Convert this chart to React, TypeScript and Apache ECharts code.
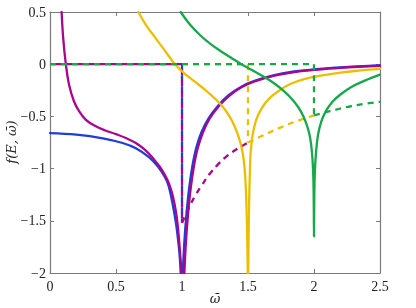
import React, { useEffect, useRef } from "react";
import * as echarts from "echarts";

type P = [number, number];

const xTicks = [0, 0.5, 1, 1.5, 2, 2.5];
const yTicks = [-2, -1.5, -1, -0.5, 0, 0.5];
const xTitle = "\u03c9\u0304";
const yTitle = "f(E, \u03c9\u0304)";

const blueLeft: P[] = [[0,-0.66],[0.2,-0.675],[0.4,-0.71],[0.55,-0.755],[0.65,-0.805],[0.75,-0.89],[0.82,-0.985],[0.87,-1.08],[0.9,-1.17],[0.935,-1.38],[0.955,-1.53],[0.97,-1.68],[0.982,-1.83],[0.99,-2]];
const blueRight: P[] = [[1.006,-2],[1.018,-1.7],[1.033,-1.45],[1.053,-1.2],[1.078,-0.98],[1.108,-0.8],[1.148,-0.65],[1.2,-0.52],[1.275,-0.395],[1.355,-0.295],[1.45,-0.215],[1.55,-0.16],[1.7,-0.105],[1.85,-0.07],[2.0,-0.05],[2.2,-0.03],[2.5,-0.012]];
const magentaLeft: P[] = [[0.088,0.5],[0.1,0.25],[0.12,0],[0.145,-0.2],[0.18,-0.35],[0.22,-0.45],[0.27,-0.53],[0.34,-0.59],[0.42,-0.635],[0.5,-0.67],[0.58,-0.71],[0.65,-0.755],[0.72,-0.82],[0.78,-0.9],[0.83,-0.98],[0.87,-1.06],[0.9,-1.14],[0.93,-1.26],[0.955,-1.42],[0.972,-1.6],[0.985,-1.8],[0.997,-2]];
const magentaRight: P[] = [[1.018,-2],[1.03,-1.7],[1.045,-1.45],[1.065,-1.2],[1.09,-0.98],[1.12,-0.8],[1.16,-0.65],[1.21,-0.52],[1.28,-0.4],[1.36,-0.3],[1.45,-0.22],[1.55,-0.165],[1.7,-0.11],[1.85,-0.075],[2.0,-0.055],[2.2,-0.035],[2.5,-0.015]];
const yellowLeft: P[] = [[0.669,0.5],[0.73,0.37],[0.8,0.25],[0.87,0.13],[0.947,0],[1.02,-0.09],[1.1,-0.17],[1.18,-0.25],[1.25,-0.33],[1.31,-0.41],[1.36,-0.5],[1.4,-0.6],[1.43,-0.7],[1.452,-0.8],[1.468,-0.92],[1.48,-1.1],[1.488,-1.35],[1.494,-1.65],[1.498,-2]];
const yellowRight: P[] = [[1.502,-2],[1.505,-1.6],[1.509,-1.3],[1.514,-1.05],[1.52,-0.85],[1.535,-0.68],[1.56,-0.54],[1.6,-0.43],[1.66,-0.33],[1.74,-0.25],[1.82,-0.19],[1.92,-0.145],[2.05,-0.11],[2.2,-0.08],[2.35,-0.06],[2.5,-0.045]];
const greenCurve: P[] = [[0.99,0.5],[1.06,0.38],[1.14,0.275],[1.22,0.19],[1.3,0.12],[1.38,0.055],[1.45,0],[1.53,-0.055],[1.62,-0.12],[1.7,-0.185],[1.77,-0.255],[1.83,-0.33],[1.88,-0.41],[1.92,-0.5],[1.95,-0.6],[1.97,-0.7],[1.985,-0.85],[1.994,-1.05],[1.998,-1.3],[2.0,-1.65],[2.002,-1.3],[2.006,-1.05],[2.015,-0.85],[2.03,-0.68],[2.055,-0.55],[2.09,-0.45],[2.14,-0.36],[2.2,-0.29],[2.28,-0.22],[2.38,-0.16],[2.5,-0.1]];

const magentaBoundary: P[] = [[1.0,-1.52],[1.05,-1.38],[1.1,-1.26],[1.15,-1.16],[1.21,-1.05],[1.28,-0.95],[1.34,-0.88],[1.42,-0.81],[1.5,-0.75]];
const yellowBoundary: P[] = [[1.5,-0.75],[1.6,-0.69],[1.74,-0.61],[1.87,-0.545],[2.0,-0.49]];
const greenBoundary: P[] = [[2.0,-0.49],[2.12,-0.45],[2.25,-0.41],[2.38,-0.38],[2.5,-0.36]];

const blueZero: P[] = [[0,0],[1,0],[1,-1.52]];
const magentaZero: P[] = [[0,0],[1,0],[1,-1.52]];
const yellowZero: P[] = [[0,0],[1.5,0],[1.5,-0.75]];
const greenZero: P[] = [[0,0],[2,0],[2,-0.49]];

const BLUE = "#1c3fd6";
const MAGENTA = "#a8068e";
const YELLOW = "#ebbf00";
const GREEN = "#16a84a";
const AXIS = "#7a7a7a";
const TEXT = "#222";
const FONT = "'Liberation Serif', 'DejaVu Serif', serif";
const NAME_FONT = "italic 13px 'DejaVu Serif', serif";

const fmt = (v: number) => (v < 0 ? "\u2212" + String(Math.abs(v)) : String(v));

export default function App() {
  const ref = useRef<HTMLDivElement>(null);
  useEffect(() => {
    const chart = echarts.init(ref.current!, null, { renderer: "svg" });
    const solid = (data: P[], color: string, z: number) => ({
      type: "line", data, symbol: "none", showSymbol: false, silent: true, clip: true, z,
      smooth: 0.4,
      lineStyle: { color, width: 2.3, cap: "round", join: "round" },
    });
    const dashed = (data: P[], color: string, z: number, offset = 0, smooth = false) => ({
      type: "line", data, symbol: "none", showSymbol: false, silent: true, clip: true, z,
      smooth: smooth ? 0.4 : false,
      lineStyle: { color, width: 2.3, type: [6, 5], dashOffset: offset },
    });
    const axisBase = {
      axisLine: { show: true, onZero: false, lineStyle: { color: AXIS, width: 1.2 } },
      axisTick: { show: true, inside: true, length: 4, lineStyle: { color: AXIS } },
      splitLine: { show: false },
    };
    chart.setOption({
      animation: false,
      grid: { left: 50, right: 36, top: 12, bottom: 35, containLabel: false, outerBoundsMode: "none" },
      graphic: [
        {
          type: "text", x: 215, y: 298, silent: true,
          style: { text: xTitle, font: NAME_FONT, fill: TEXT, align: "center", verticalAlign: "middle" },
        },
        {
          type: "text", x: 11, y: 142, rotation: Math.PI / 2, silent: true,
          style: { text: yTitle, font: NAME_FONT, fill: TEXT, align: "center", verticalAlign: "middle" },
        },
      ],
      xAxis: [
        {
          ...axisBase, type: "value", min: 0, max: 2.5, interval: 0.5, position: "bottom",
          axisLabel: { fontFamily: FONT, fontSize: 14, color: TEXT, margin: 6, formatter: fmt, customValues: xTicks },
        },
        {
          ...axisBase, type: "value", min: 0, max: 2.5, interval: 0.5, position: "top",
          axisLabel: { show: false },
        },
      ],
      yAxis: [
        {
          ...axisBase, type: "value", min: -2, max: 0.5, interval: 0.5, position: "left",
          axisLabel: { fontFamily: FONT, fontSize: 14, color: TEXT, margin: 4, formatter: fmt, customValues: yTicks },
        },
        {
          ...axisBase, type: "value", min: -2, max: 0.5, interval: 0.5, position: "right",
          axisLabel: { show: false },
        },
      ],
      series: [
        solid(blueLeft, BLUE, 2),
        solid(blueRight, BLUE, 2),
        dashed(blueZero, BLUE, 3, 0),
        solid(magentaLeft, MAGENTA, 4),
        solid(magentaRight, MAGENTA, 4),
        dashed(magentaZero, MAGENTA, 5, 5.5),
        dashed(magentaBoundary, MAGENTA, 5, 0, true),
        solid(yellowLeft, YELLOW, 6),
        solid(yellowRight, YELLOW, 6),
        dashed(yellowZero, YELLOW, 7, 0),
        dashed(yellowBoundary, YELLOW, 7, 0, true),
        solid(greenCurve, GREEN, 8),
        dashed(greenZero, GREEN, 9, 0),
        dashed(greenBoundary, GREEN, 9, 0, true),
      ],
    });
    return () => chart.dispose();
  }, []);
  return <div ref={ref} style={{ position: "fixed", left: 0, top: 0, width: 416, height: 308 }} />;
}
